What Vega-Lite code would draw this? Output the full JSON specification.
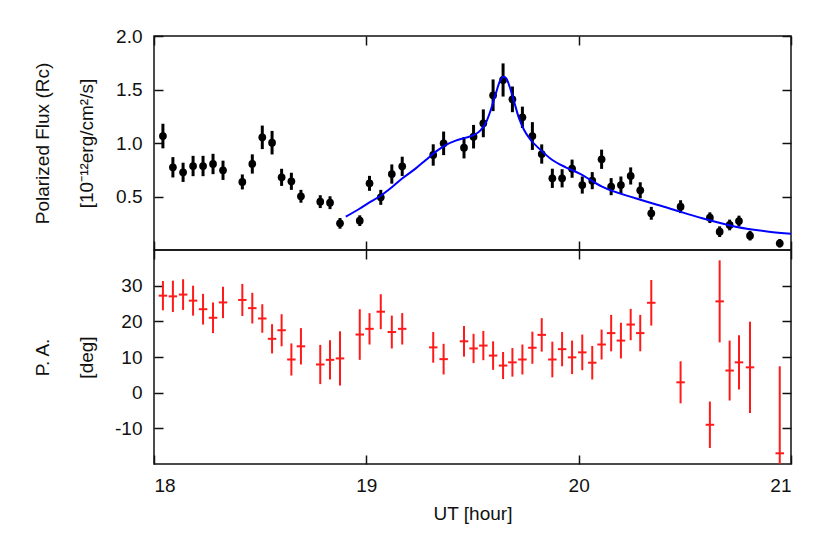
{
  "$schema": "https://vega.github.io/schema/vega-lite/v6.json",
  "padding": {"left": 32, "top": 26, "right": 5, "bottom": 5},
  "background": "white",
  "bounds": "flush",
  "spacing": 0,
  "config": {
    "font": "Liberation Sans",
    "view": {"stroke": "#111", "strokeWidth": 1.5},
    "axis": {
      "grid": false, "domain": false, "tickColor": "#111", "tickWidth": 1.5, "tickSize": -9,
      "labelFontSize": 19, "labelColor": "#111", "labelPadding": 21,
      "titleFontSize": 19, "titleFontWeight": "normal", "titleColor": "#111"
    }
  },
  "datasets": {
    "obs": [
      {"t": 18.042, "flux": 1.065, "fluxErr": 0.115, "pa": 27.2, "paErr": 4.1, "te": 0.02},
      {"t": 18.089, "flux": 0.773, "fluxErr": 0.095, "pa": 27.0, "paErr": 4.4, "te": 0.02},
      {"t": 18.137, "flux": 0.726, "fluxErr": 0.09, "pa": 27.5, "paErr": 4.3, "te": 0.02},
      {"t": 18.184, "flux": 0.785, "fluxErr": 0.095, "pa": 25.8, "paErr": 4.2, "te": 0.02},
      {"t": 18.231, "flux": 0.785, "fluxErr": 0.095, "pa": 23.4, "paErr": 4.3, "te": 0.02},
      {"t": 18.278, "flux": 0.804, "fluxErr": 0.095, "pa": 21.0, "paErr": 4.3, "te": 0.02},
      {"t": 18.325, "flux": 0.745, "fluxErr": 0.09, "pa": 25.3, "paErr": 4.4, "te": 0.02},
      {"t": 18.416, "flux": 0.636, "fluxErr": 0.07, "pa": 26.0, "paErr": 4.5, "te": 0.02},
      {"t": 18.463, "flux": 0.804, "fluxErr": 0.09, "pa": 23.7, "paErr": 4.3, "te": 0.02},
      {"t": 18.510, "flux": 1.053, "fluxErr": 0.11, "pa": 20.8, "paErr": 4.0, "te": 0.02},
      {"t": 18.556, "flux": 1.003, "fluxErr": 0.11, "pa": 15.1, "paErr": 4.1, "te": 0.02},
      {"t": 18.601, "flux": 0.679, "fluxErr": 0.08, "pa": 17.5, "paErr": 4.5, "te": 0.02},
      {"t": 18.647, "flux": 0.642, "fluxErr": 0.08, "pa": 9.3, "paErr": 4.5, "te": 0.02},
      {"t": 18.692, "flux": 0.502, "fluxErr": 0.06, "pa": 13.0, "paErr": 5.1, "te": 0.02},
      {"t": 18.783, "flux": 0.452, "fluxErr": 0.06, "pa": 7.9, "paErr": 5.5, "te": 0.02},
      {"t": 18.829, "flux": 0.442, "fluxErr": 0.06, "pa": 9.2, "paErr": 5.5, "te": 0.02},
      {"t": 18.876, "flux": 0.249, "fluxErr": 0.05, "pa": 9.6, "paErr": 7.6, "te": 0.02},
      {"t": 18.969, "flux": 0.274, "fluxErr": 0.05, "pa": 16.3, "paErr": 7.1, "te": 0.02},
      {"t": 19.015, "flux": 0.623, "fluxErr": 0.07, "pa": 17.9, "paErr": 4.4, "te": 0.02},
      {"t": 19.068, "flux": 0.492, "fluxErr": 0.07, "pa": 22.7, "paErr": 4.9, "te": 0.02},
      {"t": 19.120, "flux": 0.710, "fluxErr": 0.09, "pa": 17.0, "paErr": 4.6, "te": 0.02},
      {"t": 19.169, "flux": 0.782, "fluxErr": 0.09, "pa": 17.9, "paErr": 4.4, "te": 0.02},
      {"t": 19.315, "flux": 0.888, "fluxErr": 0.1, "pa": 12.7, "paErr": 4.3, "te": 0.02},
      {"t": 19.364, "flux": 0.997, "fluxErr": 0.11, "pa": 9.4, "paErr": 4.3, "te": 0.02},
      {"t": 19.460, "flux": 0.956, "fluxErr": 0.1, "pa": 14.4, "paErr": 4.3, "te": 0.02},
      {"t": 19.505, "flux": 1.059, "fluxErr": 0.11, "pa": 12.4, "paErr": 4.1, "te": 0.02},
      {"t": 19.551, "flux": 1.184, "fluxErr": 0.13, "pa": 13.2, "paErr": 4.1, "te": 0.02},
      {"t": 19.597, "flux": 1.446, "fluxErr": 0.148, "pa": 10.4, "paErr": 4.0, "te": 0.02},
      {"t": 19.644, "flux": 1.589, "fluxErr": 0.155, "pa": 7.6, "paErr": 3.8, "te": 0.02},
      {"t": 19.688, "flux": 1.408, "fluxErr": 0.12, "pa": 8.5, "paErr": 4.0, "te": 0.02},
      {"t": 19.735, "flux": 1.240, "fluxErr": 0.1, "pa": 9.3, "paErr": 4.2, "te": 0.02},
      {"t": 19.782, "flux": 1.065, "fluxErr": 0.13, "pa": 12.6, "paErr": 4.5, "te": 0.02},
      {"t": 19.826, "flux": 0.897, "fluxErr": 0.09, "pa": 16.2, "paErr": 4.7, "te": 0.02},
      {"t": 19.876, "flux": 0.670, "fluxErr": 0.09, "pa": 9.3, "paErr": 5.0, "te": 0.02},
      {"t": 19.922, "flux": 0.670, "fluxErr": 0.085, "pa": 12.2, "paErr": 4.8, "te": 0.02},
      {"t": 19.969, "flux": 0.760, "fluxErr": 0.085, "pa": 9.9, "paErr": 4.7, "te": 0.02},
      {"t": 20.017, "flux": 0.607, "fluxErr": 0.08, "pa": 11.3, "paErr": 5.0, "te": 0.02},
      {"t": 20.064, "flux": 0.648, "fluxErr": 0.08, "pa": 8.4, "paErr": 4.7, "te": 0.02},
      {"t": 20.108, "flux": 0.848, "fluxErr": 0.09, "pa": 13.5, "paErr": 4.2, "te": 0.02},
      {"t": 20.153, "flux": 0.592, "fluxErr": 0.08, "pa": 16.7, "paErr": 5.1, "te": 0.02},
      {"t": 20.199, "flux": 0.607, "fluxErr": 0.08, "pa": 14.6, "paErr": 5.0, "te": 0.02},
      {"t": 20.245, "flux": 0.692, "fluxErr": 0.08, "pa": 19.1, "paErr": 4.4, "te": 0.02},
      {"t": 20.290, "flux": 0.558, "fluxErr": 0.075, "pa": 16.7, "paErr": 5.1, "te": 0.02},
      {"t": 20.342, "flux": 0.343, "fluxErr": 0.06, "pa": 25.2, "paErr": 6.4, "te": 0.02},
      {"t": 20.480, "flux": 0.405, "fluxErr": 0.06, "pa": 2.9, "paErr": 5.9, "te": 0.02},
      {"t": 20.618, "flux": 0.302, "fluxErr": 0.05, "pa": -9.0, "paErr": 6.5, "te": 0.02},
      {"t": 20.664, "flux": 0.171, "fluxErr": 0.05, "pa": 25.6, "paErr": 11.5, "te": 0.02},
      {"t": 20.711, "flux": 0.234, "fluxErr": 0.05, "pa": 6.2, "paErr": 8.4, "te": 0.02},
      {"t": 20.755, "flux": 0.271, "fluxErr": 0.05, "pa": 8.5, "paErr": 7.6, "te": 0.02},
      {"t": 20.807, "flux": 0.134, "fluxErr": 0.045, "pa": 7.1, "paErr": 12.8, "te": 0.02},
      {"t": 20.947, "flux": 0.063, "fluxErr": 0.04, "pa": -17.0, "paErr": 24.4, "te": 0.02}
    ],
    "fit": [
      {"t": 18.903, "f": 0.311}, {"t": 18.966, "f": 0.383}, {"t": 19.013, "f": 0.442},
      {"t": 19.060, "f": 0.498}, {"t": 19.123, "f": 0.592}, {"t": 19.170, "f": 0.670},
      {"t": 19.233, "f": 0.763}, {"t": 19.280, "f": 0.841}, {"t": 19.327, "f": 0.919},
      {"t": 19.374, "f": 0.981}, {"t": 19.421, "f": 1.022}, {"t": 19.468, "f": 1.050},
      {"t": 19.507, "f": 1.075}, {"t": 19.539, "f": 1.121}, {"t": 19.562, "f": 1.184},
      {"t": 19.586, "f": 1.308}, {"t": 19.610, "f": 1.464}, {"t": 19.628, "f": 1.573},
      {"t": 19.644, "f": 1.620}, {"t": 19.659, "f": 1.604}, {"t": 19.675, "f": 1.526},
      {"t": 19.696, "f": 1.386}, {"t": 19.719, "f": 1.231}, {"t": 19.743, "f": 1.121},
      {"t": 19.774, "f": 1.028}, {"t": 19.813, "f": 0.950}, {"t": 19.876, "f": 0.841},
      {"t": 19.939, "f": 0.773}, {"t": 20.002, "f": 0.717}, {"t": 20.110, "f": 0.592},
      {"t": 20.268, "f": 0.483}, {"t": 20.425, "f": 0.390}, {"t": 20.582, "f": 0.296},
      {"t": 20.739, "f": 0.218}, {"t": 20.896, "f": 0.171}, {"t": 21.005, "f": 0.150}
    ]
  },
  "vconcat": [
    {
      "width": 637,
      "height": 214,
      "resolve": {"axis": {"x": "independent", "y": "independent"}},
      "layer": [
        {
          "data": {"name": "obs"},
          "mark": {"type": "errorbar", "color": "#000", "thickness": 3, "clip": true},
          "encoding": {
            "x": {"field": "t", "type": "quantitative", "scale": {"domain": [18, 21]},
                  "axis": {"orient": "bottom", "values": [18, 19, 20, 21], "labels": false, "title": null}},
            "y": {"field": "flux", "type": "quantitative", "scale": {"domain": [0, 2]},
                  "axis": {"orient": "left", "values": [0.5, 1, 1.5, 2], "format": ".1f",
                           "title": ["Polarized Flux (Rᴄ)", "[10⁻¹²erg/cm²/s]"],
                           "titleLineHeight": 44, "titleX": -102, "titleY": 107}},
            "yError": {"field": "fluxErr"}
          }
        },
        {
          "data": {"name": "obs"},
          "mark": {"type": "point", "filled": true, "color": "#000", "size": 60, "opacity": 1, "clip": true},
          "encoding": {
            "x": {"field": "t", "type": "quantitative", "scale": {"domain": [18, 21]},
                  "axis": {"orient": "top", "values": [18, 19, 20, 21], "labels": false, "title": null}},
            "y": {"field": "flux", "type": "quantitative", "scale": {"domain": [0, 2]},
                  "axis": {"orient": "right", "values": [0.5, 1, 1.5, 2], "labels": false, "title": null}}
          }
        },
        {
          "data": {"name": "fit"},
          "mark": {"type": "line", "color": "#0000ff", "strokeWidth": 2, "clip": true, "interpolate": "monotone"},
          "encoding": {
            "x": {"field": "t", "type": "quantitative", "scale": {"domain": [18, 21]}, "axis": null},
            "y": {"field": "f", "type": "quantitative", "scale": {"domain": [0, 2]}, "axis": null}
          }
        }
      ]
    },
    {
      "width": 637,
      "height": 214,
      "resolve": {"axis": {"x": "independent", "y": "independent"}},
      "layer": [
        {
          "data": {"name": "obs"},
          "mark": {"type": "errorbar", "color": "#ff1a1a", "thickness": 2, "clip": true},
          "encoding": {
            "x": {"field": "t", "type": "quantitative", "scale": {"domain": [18, 21]},
                  "axis": {"orient": "bottom", "values": [18, 19, 20, 21], "title": "UT [hour]", "titlePadding": 9}},
            "y": {"field": "pa", "type": "quantitative", "scale": {"domain": [-20, 40]},
                  "axis": {"orient": "left", "values": [-10, 0, 10, 20, 30], "labelExpr": "'' + datum.value",
                           "title": ["P. A.", "[deg]"],
                           "titleLineHeight": 44, "titleX": -102, "titleY": 107}},
            "yError": {"field": "paErr"}
          }
        },
        {
          "data": {"name": "obs"},
          "mark": {"type": "errorbar", "color": "#ff1a1a", "thickness": 2, "clip": true},
          "encoding": {
            "x": {"field": "t", "type": "quantitative", "scale": {"domain": [18, 21]},
                  "axis": {"orient": "top", "values": [18, 19, 20, 21], "labels": false, "title": null}},
            "y": {"field": "pa", "type": "quantitative", "scale": {"domain": [-20, 40]},
                  "axis": {"orient": "right", "values": [-10, 0, 10, 20, 30], "labels": false, "title": null}},
            "xError": {"field": "te"}
          }
        }
      ]
    }
  ]
}
